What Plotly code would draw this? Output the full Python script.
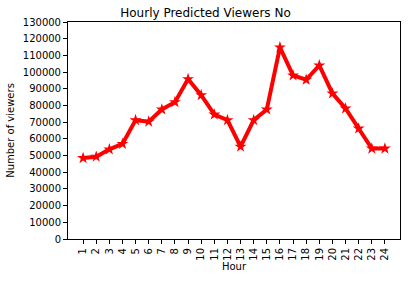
import plotly.graph_objects as go

hours = list(range(1, 25))
hour_labels = [str(h) for h in hours]
viewers = [48500, 49300, 53700, 57000, 71200, 70300, 77600, 82000, 95800, 86200,
           74600, 71200, 55300, 71200, 77600, 114800, 98000, 95400, 104000, 87200,
           78200, 66200, 54200, 54200]
y_ticks = list(range(0, 130001, 10000))

fig = go.Figure()
fig.add_trace(go.Scatter(
    x=hours, y=viewers, mode="lines+markers",
    line=dict(color="#ff0000", width=4),
    marker=dict(symbol="star", size=9, color="#ff0000"),
))

font = "DejaVu Sans, Arial, sans-serif"
fig.update_layout(
    width=411, height=281,
    margin=dict(l=67, r=10, t=22, b=41),
    paper_bgcolor="white", plot_bgcolor="white",
    showlegend=False,
    font=dict(family=font, size=10, color="black"),
    title=dict(text="Hourly Predicted Viewers No", x=0.5, xanchor="center",
               y=1 - 13 / 281, yanchor="middle", font=dict(size=12, color="black")),
)
fig.update_xaxes(
    range=[-0.15, 25.15], tickmode="array", tickvals=hours, ticktext=hour_labels,
    tickangle=-90, ticks="outside", ticklen=4, tickcolor="black",
    showline=True, linecolor="black", linewidth=1, mirror=True,
    showgrid=False, zeroline=False,
    title=dict(text="Hour", font=dict(size=10), standoff=3),
)
fig.update_yaxes(
    range=[0, 130000], tickmode="array", tickvals=y_ticks,
    ticktext=[str(v) for v in y_ticks],
    ticks="outside", ticklen=4, tickcolor="black",
    showline=True, linecolor="black", linewidth=1, mirror=True,
    showgrid=False, zeroline=False,
    title=dict(text="Number of viewers", font=dict(size=10), standoff=6),
)
fig.write_html("out.html")
